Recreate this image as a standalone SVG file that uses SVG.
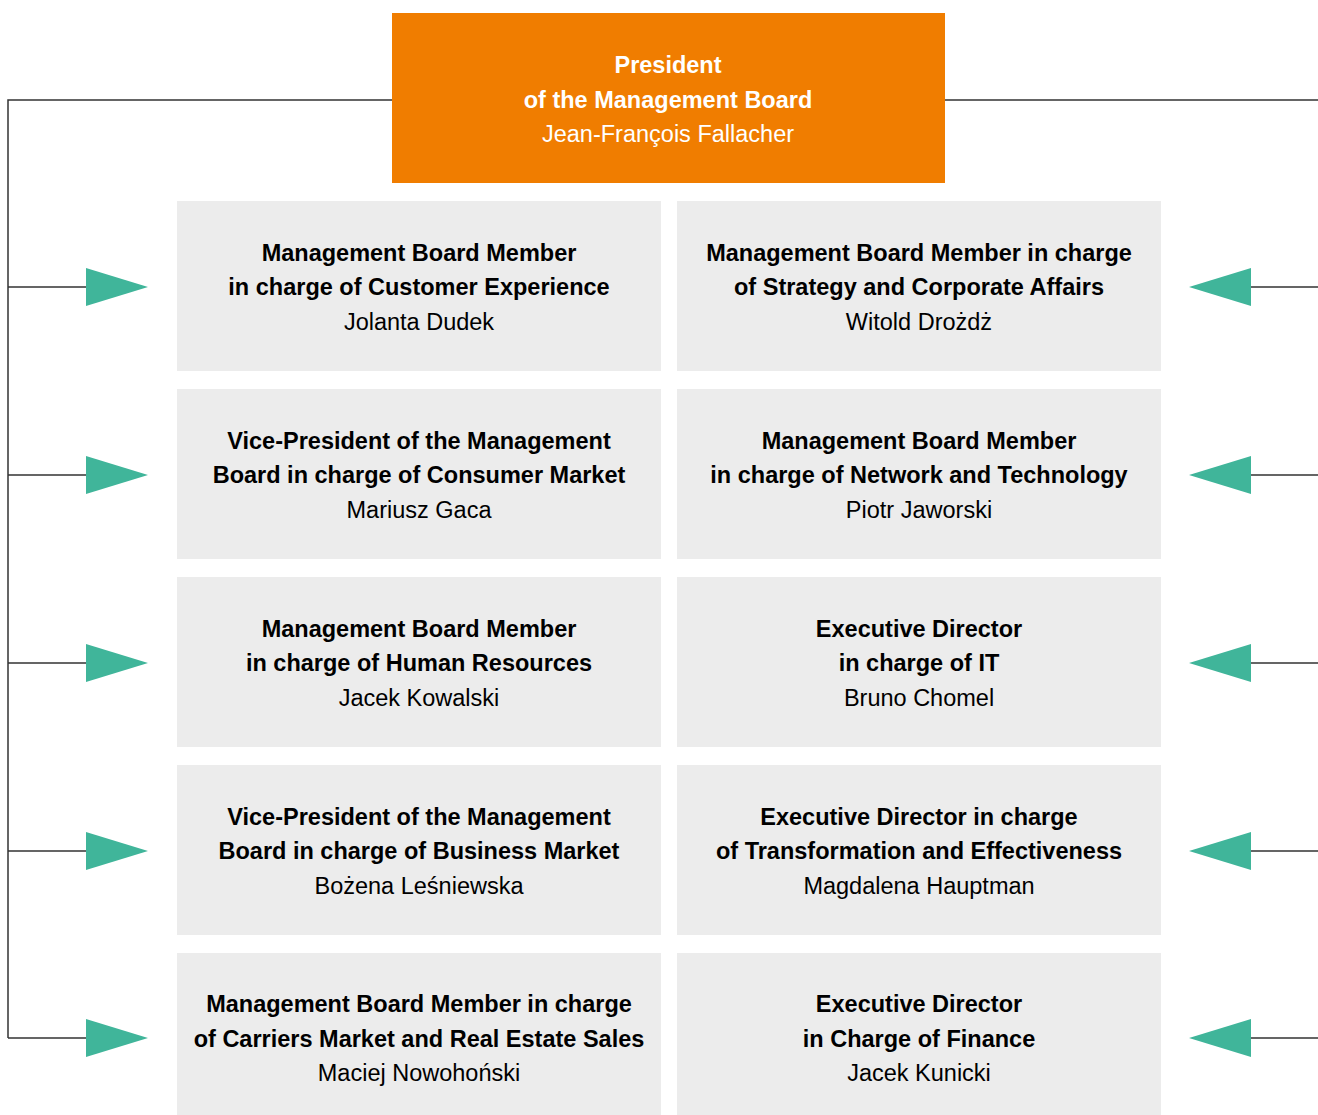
<svg xmlns="http://www.w3.org/2000/svg" width="1318" height="1115" viewBox="0 0 1318 1115">
<style>
.box{fill:#ececec}
.t{font-family:"Liberation Sans",Arial,sans-serif;font-size:23.5px;fill:#000;text-anchor:middle}
.b{font-weight:bold}
.w{fill:#fff}
.ln{stroke:#333;stroke-width:1.5;fill:none}
.ar{fill:#40b59a}
</style>
<rect width="1318" height="1115" fill="#fff"/>
<g id="connectors">
<path class="ln" d="M392 100H8V1038M945 100H1318"/>
<path class="ln" d="M8 287H88M8 475H88M8 663H88M8 851H88M8 1038H88"/>
<path class="ln" d="M1249 287H1318M1249 475H1318M1249 663H1318M1249 851H1318M1249 1038H1318"/>
<g class="ar">
<polygon points="86,268 148,287 86,306"/>
<polygon points="86,456 148,475 86,494"/>
<polygon points="86,644 148,663 86,682"/>
<polygon points="86,832 148,851 86,870"/>
<polygon points="86,1019 148,1038 86,1057"/>
<polygon points="1251,268 1189,287 1251,306"/>
<polygon points="1251,456 1189,475 1251,494"/>
<polygon points="1251,644 1189,663 1251,682"/>
<polygon points="1251,832 1189,851 1251,870"/>
<polygon points="1251,1019 1189,1038 1251,1057"/>
</g>
</g>
<g id="president">
<rect x="392" y="13" width="553" height="170" fill="#f07d00"/>
<text class="t b w" x="668" y="73">President</text>
<text class="t b w" x="668" y="108">of the Management Board</text>
<text class="t w" x="668" y="142">Jean-François Fallacher</text>
</g>
<g id="n1">
<rect class="box" x="177" y="201" width="484" height="170"/>
<text class="t b" x="419" y="261">Management Board Member</text>
<text class="t b" x="419" y="295">in charge of Customer Experience</text>
<text class="t" x="419" y="330">Jolanta Dudek</text>
</g>
<g id="n2">
<rect class="box" x="677" y="201" width="484" height="170"/>
<text class="t b" x="919" y="261">Management Board Member in charge</text>
<text class="t b" x="919" y="295">of Strategy and Corporate Affairs</text>
<text class="t" x="919" y="330">Witold Drożdż</text>
</g>
<g id="n3">
<rect class="box" x="177" y="389" width="484" height="170"/>
<text class="t b" x="419" y="449">Vice-President of the Management</text>
<text class="t b" x="419" y="483">Board in charge of Consumer Market</text>
<text class="t" x="419" y="518">Mariusz Gaca</text>
</g>
<g id="n4">
<rect class="box" x="677" y="389" width="484" height="170"/>
<text class="t b" x="919" y="449">Management Board Member</text>
<text class="t b" x="919" y="483">in charge of Network and Technology</text>
<text class="t" x="919" y="518">Piotr Jaworski</text>
</g>
<g id="n5">
<rect class="box" x="177" y="577" width="484" height="170"/>
<text class="t b" x="419" y="637">Management Board Member</text>
<text class="t b" x="419" y="671">in charge of Human Resources</text>
<text class="t" x="419" y="706">Jacek Kowalski</text>
</g>
<g id="n6">
<rect class="box" x="677" y="577" width="484" height="170"/>
<text class="t b" x="919" y="637">Executive Director</text>
<text class="t b" x="919" y="671">in charge of IT</text>
<text class="t" x="919" y="706">Bruno Chomel</text>
</g>
<g id="n7">
<rect class="box" x="177" y="765" width="484" height="170"/>
<text class="t b" x="419" y="825">Vice-President of the Management</text>
<text class="t b" x="419" y="859">Board in charge of Business Market</text>
<text class="t" x="419" y="894">Bożena Leśniewska</text>
</g>
<g id="n8">
<rect class="box" x="677" y="765" width="484" height="170"/>
<text class="t b" x="919" y="825">Executive Director in charge</text>
<text class="t b" x="919" y="859">of Transformation and Effectiveness</text>
<text class="t" x="919" y="894">Magdalena Hauptman</text>
</g>
<g id="n9">
<rect class="box" x="177" y="953" width="484" height="162"/>
<text class="t b" x="419" y="1012">Management Board Member in charge</text>
<text class="t b" x="419" y="1047">of Carriers Market and Real Estate Sales</text>
<text class="t" x="419" y="1081">Maciej Nowohoński</text>
</g>
<g id="n10">
<rect class="box" x="677" y="953" width="484" height="162"/>
<text class="t b" x="919" y="1012">Executive Director</text>
<text class="t b" x="919" y="1047">in Charge of Finance</text>
<text class="t" x="919" y="1081">Jacek Kunicki</text>
</g>
</svg>
